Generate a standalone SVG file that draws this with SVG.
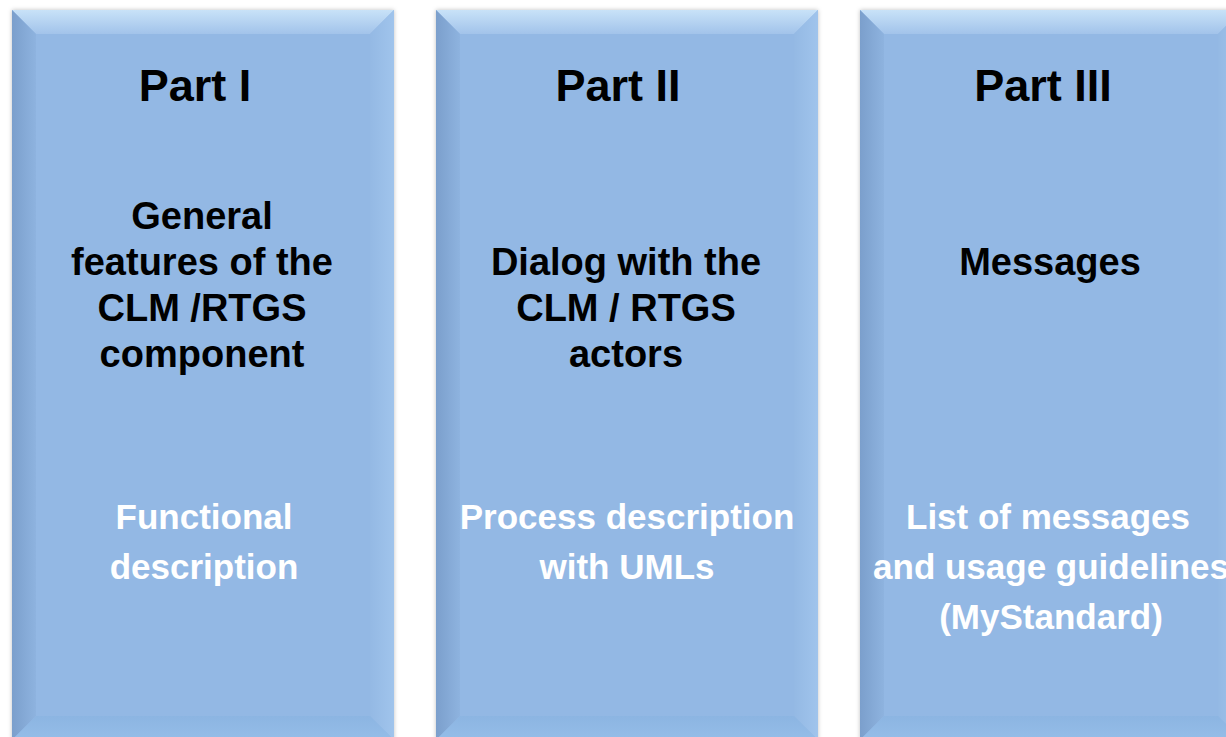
<svg xmlns="http://www.w3.org/2000/svg" width="1226" height="737" viewBox="0 0 1226 737">
<defs>
<linearGradient id="gTop" x1="0" y1="0" x2="0" y2="1"><stop offset="0" stop-color="#c8e2f8"/><stop offset="1" stop-color="#a2c3ea"/></linearGradient>
<linearGradient id="gLeft" x1="0" y1="0" x2="1" y2="0"><stop offset="0" stop-color="#7b9fcc"/><stop offset="1" stop-color="#8eb3df"/></linearGradient>
<linearGradient id="gRight" x1="0" y1="0" x2="1" y2="0"><stop offset="0" stop-color="#94b9e4"/><stop offset="1" stop-color="#a0c4ec"/></linearGradient>
<linearGradient id="gBot" x1="0" y1="0" x2="0" y2="1"><stop offset="0" stop-color="#8cb5e2"/><stop offset="1" stop-color="#95bde8"/></linearGradient>
<filter id="sh" x="-5%" y="-5%" width="110%" height="110%"><feDropShadow dx="0" dy="0" stdDeviation="2" flood-color="#000" flood-opacity="0.25"/></filter>
<g id="box">
<rect x="0" y="0" width="382" height="730" fill="#93b8e4" filter="url(#sh)"/>
<polygon points="0,0 382,0 358,24 24,24" fill="url(#gTop)"/>
<polygon points="0,0 24,24 24,706 0,730" fill="url(#gLeft)"/>
<polygon points="382,0 382,730 358,706 358,24" fill="url(#gRight)"/>
<polygon points="0,730 24,706 358,706 382,730" fill="url(#gBot)"/>
</g>
</defs>
<style>
text{font-family:"Liberation Sans",Arial,sans-serif;font-weight:bold;text-anchor:middle}
.part{font-size:45px;fill:#000}
.title{font-size:38px;fill:#000}
.sub{font-size:35px;fill:#fff}
</style>
<g id="part1">
<use href="#box" x="12" y="10"/>
<text class="part" x="195" y="101">Part I</text>
<text class="title" x="202" y="229">General</text>
<text class="title" x="202" y="275">features of the</text>
<text class="title" x="202" y="321">CLM /RTGS</text>
<text class="title" x="202" y="367">component</text>
<text class="sub" x="204" y="529">Functional</text>
<text class="sub" x="204" y="579">description</text>
</g>
<g id="part2">
<use href="#box" x="436" y="10"/>
<text class="part" x="618" y="101">Part II</text>
<text class="title" x="626" y="275">Dialog with the</text>
<text class="title" x="626" y="321">CLM / RTGS</text>
<text class="title" x="626" y="367">actors</text>
<text class="sub" x="627" y="529">Process description</text>
<text class="sub" x="627" y="579">with UMLs</text>
</g>
<g id="part3">
<use href="#box" x="860" y="10"/>
<text class="part" x="1043" y="101">Part III</text>
<text class="title" x="1050" y="275">Messages</text>
<text class="sub" x="1048" y="529">List of messages</text>
<text class="sub" x="1051" y="579">and usage guidelines</text>
<text class="sub" x="1051" y="629">(MyStandard)</text>
</g>
<g id="connectors"/>
</svg>
